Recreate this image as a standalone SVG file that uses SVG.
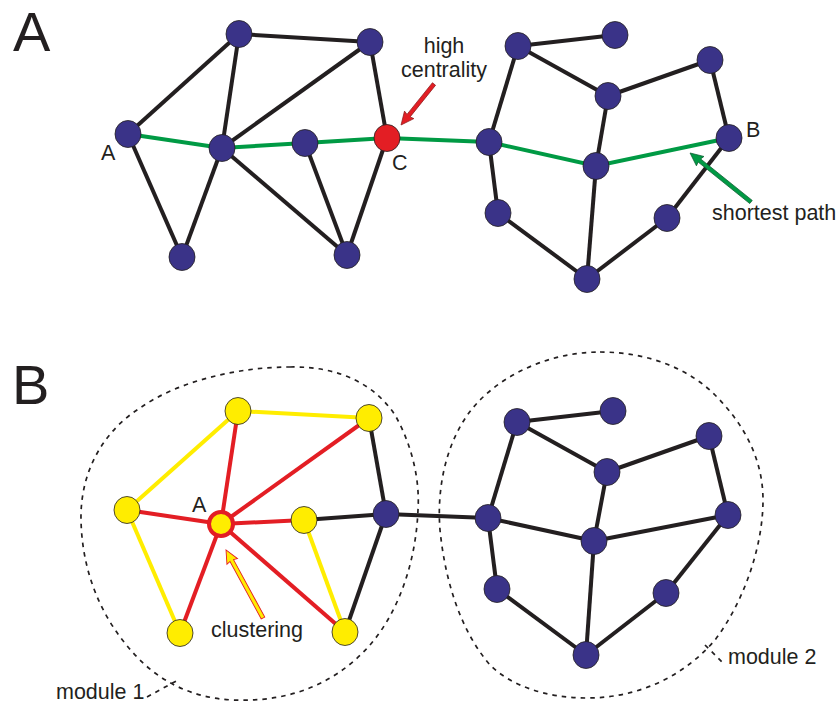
<svg xmlns="http://www.w3.org/2000/svg" width="840" height="704" viewBox="0 0 840 704">
  <style>
    .e { stroke: #231f20; stroke-width: 4; fill: none; }
    .g { stroke: #009a44; stroke-width: 4; fill: none; }
    .r { stroke: #e31e24; stroke-width: 4; fill: none; }
    .y { stroke: #ffed00; stroke-width: 4; fill: none; }
    .n { fill: #3a3388; stroke: #231f20; stroke-width: 0.8; }
    .nr { fill: #e31e24; stroke: #231f20; stroke-width: 0.8; }
    .ny { fill: #ffed00; stroke: #231f20; stroke-width: 0.8; }
    .dash { stroke: #231f20; stroke-width: 1.7; fill: none; stroke-dasharray: 4.5 5; }
    text { font-family: "Liberation Sans", Arial, sans-serif; fill: #231f20; }
    .lbl { font-size: 21.5px; }
    .big { font-size: 56px; }
  </style>

  <!-- panel letters -->
  <text class="big" x="13" y="51">A</text>
  <text class="big" x="12" y="404">B</text>

  <!-- module outlines -->
  <g id="modules">
    <path class="dash" d="M 290 367 C 340 366, 375 385, 395 415 C 412 445, 420 480, 418 510 C 416 560, 400 610, 370 645 C 330 690, 280 702, 233 700 C 190 698, 160 680, 140 660 C 100 620, 82 570, 81 520 C 80 470, 105 430, 140 408 C 180 380, 240 367, 290 367 Z"/>
    <path class="dash" d="M 600 352 C 650 352, 690 370, 715 395 C 745 425, 763 460, 763 500 C 763 545, 745 600, 715 640 C 685 675, 640 698, 587 698 C 545 698, 510 685, 490 665 C 460 630, 445 580, 440 530 C 436 480, 450 430, 480 400 C 510 370, 555 352, 600 352 Z"/>
    <line class="dash" x1="147" y1="697" x2="178" y2="680"/>
    <line class="dash" x1="705" y1="645" x2="723" y2="663"/>
  </g>

  <g id="connectors">
    <!-- panel A: plain edges -->
    <line class="e" x1="128" y1="134" x2="239" y2="34"/>
    <line class="e" x1="239" y1="34" x2="370" y2="42"/>
    <line class="e" x1="239" y1="34" x2="222" y2="148"/>
    <line class="e" x1="222" y1="148" x2="370" y2="42"/>
    <line class="e" x1="370" y1="42" x2="387" y2="138"/>
    <line class="e" x1="128" y1="134" x2="182" y2="257"/>
    <line class="e" x1="222" y1="148" x2="182" y2="257"/>
    <line class="e" x1="222" y1="148" x2="347" y2="255"/>
    <line class="e" x1="305" y1="143" x2="347" y2="255"/>
    <line class="e" x1="387" y1="138" x2="347" y2="255"/>
    <line class="e" x1="518" y1="46" x2="615" y2="35"/>
    <line class="e" x1="518" y1="46" x2="608" y2="96"/>
    <line class="e" x1="518" y1="46" x2="489" y2="142"/>
    <line class="e" x1="608" y1="96" x2="710" y2="60"/>
    <line class="e" x1="608" y1="96" x2="596" y2="166"/>
    <line class="e" x1="710" y1="60" x2="729" y2="138"/>
    <line class="e" x1="489" y1="142" x2="498" y2="213"/>
    <line class="e" x1="596" y1="166" x2="587" y2="279"/>
    <line class="e" x1="498" y1="213" x2="587" y2="279"/>
    <line class="e" x1="587" y1="279" x2="667" y2="218"/>
    <line class="e" x1="667" y1="218" x2="729" y2="138"/>
    <!-- panel A: shortest path A to B -->
    <polyline class="g" points="128,134 222,148 305,143 387,138 489,142 596,166 729,138"/>

    <!-- panel B: module 1 -->
    <line class="y" x1="238" y1="411" x2="369" y2="418"/>
    <line class="y" x1="238" y1="411" x2="127" y2="510"/>
    <line class="y" x1="127" y1="510" x2="180" y2="633"/>
    <line class="y" x1="304" y1="520" x2="345" y2="632"/>
    <line class="r" x1="221" y1="524" x2="238" y2="411"/>
    <line class="r" x1="221" y1="524" x2="369" y2="418"/>
    <line class="r" x1="221" y1="524" x2="127" y2="510"/>
    <line class="r" x1="221" y1="524" x2="304" y2="520"/>
    <line class="r" x1="221" y1="524" x2="180" y2="633"/>
    <line class="r" x1="221" y1="524" x2="345" y2="632"/>
    <line class="e" x1="369" y1="418" x2="386" y2="514"/>
    <line class="e" x1="304" y1="520" x2="386" y2="514"/>
    <line class="e" x1="386" y1="514" x2="345" y2="632"/>
    <line class="e" x1="386" y1="514" x2="488" y2="518"/>
    <!-- panel B: module 2 -->
    <line class="e" x1="517" y1="422" x2="613" y2="411"/>
    <line class="e" x1="517" y1="422" x2="607" y2="472"/>
    <line class="e" x1="517" y1="422" x2="488" y2="518"/>
    <line class="e" x1="607" y1="472" x2="709" y2="436"/>
    <line class="e" x1="607" y1="472" x2="594" y2="541"/>
    <line class="e" x1="709" y1="436" x2="728" y2="515"/>
    <line class="e" x1="488" y1="518" x2="594" y2="541"/>
    <line class="e" x1="594" y1="541" x2="728" y2="515"/>
    <line class="e" x1="488" y1="518" x2="497" y2="589"/>
    <line class="e" x1="497" y1="589" x2="586" y2="655"/>
    <line class="e" x1="594" y1="541" x2="586" y2="655"/>
    <line class="e" x1="586" y1="655" x2="666" y2="593"/>
    <line class="e" x1="666" y1="593" x2="728" y2="515"/>
  </g>

  <!-- panel A nodes -->
  <g id="a-t1"><ellipse class="n" cx="239" cy="34" rx="13" ry="13.5"/></g>
  <g id="a-t2"><ellipse class="n" cx="370" cy="42" rx="13" ry="13.5"/></g>
  <g id="a-A"><ellipse class="n" cx="128" cy="134" rx="13" ry="13.5"/><text class="lbl" x="101" y="160">A</text></g>
  <g id="a-hub"><ellipse class="n" cx="222" cy="148" rx="13" ry="13.5"/></g>
  <g id="a-mid"><ellipse class="n" cx="305" cy="143" rx="13" ry="13.5"/></g>
  <g id="a-C"><ellipse class="nr" cx="387" cy="138" rx="13" ry="13.5"/><text class="lbl" x="392" y="170">C</text></g>
  <g id="a-bl"><ellipse class="n" cx="182" cy="257" rx="13" ry="13.5"/></g>
  <g id="a-bm"><ellipse class="n" cx="347" cy="255" rx="13" ry="13.5"/></g>
  <g id="a-r1"><ellipse class="n" cx="518" cy="46" rx="13" ry="13.5"/></g>
  <g id="a-r2"><ellipse class="n" cx="615" cy="35" rx="13" ry="13.5"/></g>
  <g id="a-r3"><ellipse class="n" cx="710" cy="60" rx="13" ry="13.5"/></g>
  <g id="a-r4"><ellipse class="n" cx="608" cy="96" rx="13" ry="13.5"/></g>
  <g id="a-r5"><ellipse class="n" cx="489" cy="142" rx="13" ry="13.5"/></g>
  <g id="a-r6"><ellipse class="n" cx="596" cy="166" rx="13" ry="13.5"/></g>
  <g id="a-B"><ellipse class="n" cx="729" cy="138" rx="13" ry="13.5"/><text class="lbl" x="746" y="137">B</text></g>
  <g id="a-r7"><ellipse class="n" cx="498" cy="213" rx="13" ry="13.5"/></g>
  <g id="a-r8"><ellipse class="n" cx="667" cy="218" rx="13" ry="13.5"/></g>
  <g id="a-r9"><ellipse class="n" cx="587" cy="279" rx="13" ry="13.5"/></g>

  <!-- panel B nodes -->
  <g id="b-y1"><ellipse class="ny" cx="238" cy="411" rx="13" ry="13.5"/></g>
  <g id="b-y2"><ellipse class="ny" cx="369" cy="418" rx="13" ry="13.5"/></g>
  <g id="b-y3"><ellipse class="ny" cx="127" cy="510" rx="13" ry="13.5"/></g>
  <g id="b-A"><circle cx="221" cy="524" r="12" fill="#ffed00" stroke="#e31e24" stroke-width="4"/><text class="lbl" x="192" y="512">A</text></g>
  <g id="b-y4"><ellipse class="ny" cx="304" cy="520" rx="13" ry="13.5"/></g>
  <g id="b-hub"><ellipse class="n" cx="386" cy="514" rx="13" ry="13.5"/></g>
  <g id="b-y5"><ellipse class="ny" cx="180" cy="633" rx="13" ry="13.5"/></g>
  <g id="b-y6"><ellipse class="ny" cx="345" cy="632" rx="13" ry="13.5"/></g>
  <g id="b-b1"><ellipse class="n" cx="517" cy="422" rx="13" ry="13.5"/></g>
  <g id="b-b2"><ellipse class="n" cx="613" cy="411" rx="13" ry="13.5"/></g>
  <g id="b-b3"><ellipse class="n" cx="709" cy="436" rx="13" ry="13.5"/></g>
  <g id="b-b4"><ellipse class="n" cx="607" cy="472" rx="13" ry="13.5"/></g>
  <g id="b-b5"><ellipse class="n" cx="488" cy="518" rx="13" ry="13.5"/></g>
  <g id="b-b6"><ellipse class="n" cx="594" cy="541" rx="13" ry="13.5"/></g>
  <g id="b-b7"><ellipse class="n" cx="728" cy="515" rx="13" ry="13.5"/></g>
  <g id="b-b8"><ellipse class="n" cx="497" cy="589" rx="13" ry="13.5"/></g>
  <g id="b-b9"><ellipse class="n" cx="666" cy="593" rx="13" ry="13.5"/></g>
  <g id="b-b10"><ellipse class="n" cx="586" cy="655" rx="13" ry="13.5"/></g>

  <!-- annotation arrows (drawn along +x, then placed) -->
  <g id="note-centrality">
    <polygon points="0,-2 40.6,-2 39.6,-6 52.6,0 39.6,6 40.6,2 0,2" fill="#e31e24" stroke="#8b1a1a" stroke-width="0.7" transform="translate(434 84) rotate(128.8)"/>
    <text class="lbl" x="444" y="53" text-anchor="middle">high</text>
    <text class="lbl" x="444" y="77" text-anchor="middle">centrality</text>
  </g>
  <g id="note-path">
    <polygon points="0,-2 66.2,-2 65.2,-6 78.2,0 65.2,6 66.2,2 0,2" fill="#009a44" stroke="#0b5a2e" stroke-width="0.7" transform="translate(751 202) rotate(-141.2)"/>
    <text class="lbl" x="712" y="220">shortest path</text>
  </g>
  <g id="note-clustering">
    <polygon points="0,-2 65.4,-2 64.4,-6 77.4,0 64.4,6 65.4,2 0,2" fill="#ffed00" stroke="#e31e24" stroke-width="0.9" transform="translate(263 618) rotate(-118.55)"/>
    <text class="lbl" x="211" y="637">clustering</text>
  </g>
  <g id="note-modules">
    <text class="lbl" x="56" y="699">module 1</text>
    <text class="lbl" x="728" y="664">module 2</text>
  </g>
</svg>
